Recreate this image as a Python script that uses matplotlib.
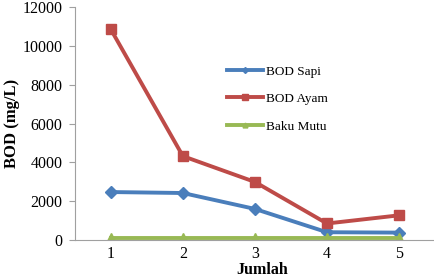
import matplotlib
matplotlib.use("Agg")
import matplotlib.pyplot as plt

categories = [1, 2, 3, 4, 5]
bod_sapi = [2470, 2420, 1600, 400, 380]
bod_ayam = [10850, 4320, 2990, 850, 1270]
baku_mutu = [100, 100, 100, 100, 100]
yticks = [0, 2000, 4000, 6000, 8000, 10000, 12000]

plt.rcParams['font.family'] = ['Liberation Serif', 'DejaVu Serif']

fig = plt.figure(figsize=(4.35, 2.77), dpi=100)
ax = fig.add_axes([0.172, 0.1336, 0.828, 0.841])

ax.plot(categories, bod_sapi, color='#4a7ebb', lw=2.8, marker='D', ms=6, label='BOD Sapi')
ax.plot(categories, bod_ayam, color='#be4b48', lw=2.8, marker='s', ms=7.5, label='BOD Ayam')
ax.plot(categories, baku_mutu, color='#98b954', lw=2.8, marker='^', ms=7, label='Baku Mutu')

ax.set_xlim(0.5, 5.5)
ax.set_ylim(0, 12000)
ax.set_yticks(yticks)
ax.set_xticks(categories)
ax.tick_params(axis='y', length=4, color='#a0a0a0', labelsize=11.5, pad=5)
ax.tick_params(axis='x', length=0, labelsize=11.5, pad=4)
for s in ['top', 'right']:
    ax.spines[s].set_visible(False)
for s in ['left', 'bottom']:
    ax.spines[s].set_color('#a0a0a0')
ax.set_ylabel('BOD (mg/L)', fontweight='bold', fontsize=12, labelpad=2)
ax.set_xlabel('Jumlah', fontweight='bold', fontsize=11.5)
ax.xaxis.set_label_coords(0.52, -0.093, transform=ax.transAxes)
ax.xaxis.label.set_va('top')

ax.legend(loc='center left', bbox_to_anchor=(215/435, 1 - 99/277), bbox_transform=fig.transFigure,
          frameon=False, fontsize=9.5,
          handlelength=2.7, labelspacing=1.15, handletextpad=0.25, markerscale=0.5)

fig.savefig('out.png', dpi=100)
